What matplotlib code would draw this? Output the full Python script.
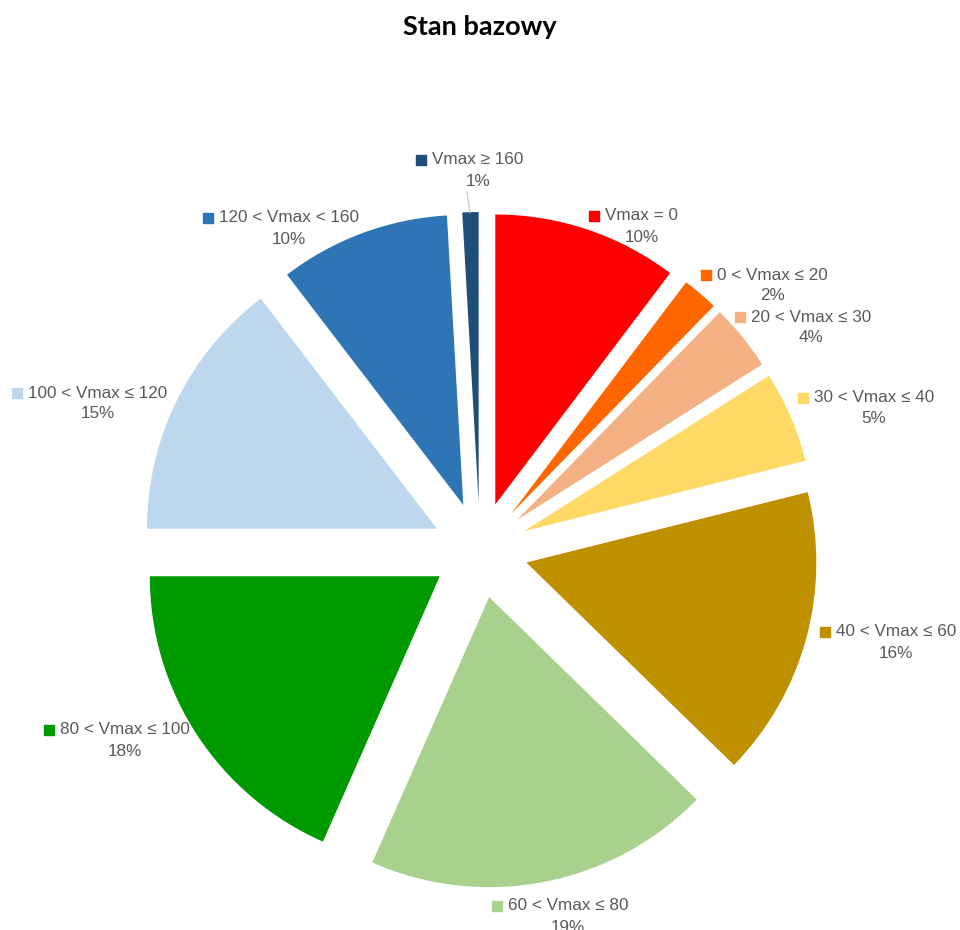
import numpy as np
import matplotlib
matplotlib.use('Agg')
import matplotlib.pyplot as plt

# data (shares in %; labels show rounded values)
categories = ['Vmax = 0', '0 < Vmax ≤ 20', '20 < Vmax ≤ 30', '30 < Vmax ≤ 40',
              '40 < Vmax ≤ 60', '60 < Vmax ≤ 80', '80 < Vmax ≤ 100',
              '100 < Vmax ≤ 120', '120 < Vmax < 160', 'Vmax ≥ 160']
shares = [10.3, 2.0, 3.7, 5.1, 16.2, 19.3, 18.4, 14.6, 9.5, 0.9]
colors = ['#FF0000', '#FF6600', '#F4B183', '#FFD966', '#BF9000',
          '#A9D18E', '#009900', '#BDD7EE', '#2E75B6', '#1F4E79']

# label anchors (marker position, pixels from top-left)
label_pos = [(594, 216), (706, 275), (740, 317), (803, 398), (825, 632),
             (497, 906), (49, 730), (17, 393), (208, 218), (421, 160)]

W, H = 960, 930
plt.rcParams['font.family'] = ['Liberation Sans', 'DejaVu Sans']

fig = plt.figure(figsize=(9.6, 9.3), dpi=100)
ax = fig.add_axes([0, 0, 1, 1])

cx, cy, r, d = 480, 550, 290, 48
ax.pie(shares, colors=colors, startangle=90, counterclock=False, radius=r,
       center=(cx, H - cy), explode=[d] * len(shares),
       wedgeprops=dict(linewidth=0))
ax.set_xlim(0, W)
ax.set_ylim(0, H)
ax.set_aspect('equal')
ax.axis('off')

fig.text(0.5, 1 - 27 / H, 'Stan bazowy', ha='center', va='center',
         fontsize=19.5, fontweight='bold', family=['Lato', 'DejaVu Sans'])

# leader line for the smallest slice
ax.plot([470, 467], [H - 213, H - 192], color='#BFBFBF', lw=0.8)

fig.canvas.draw()
renderer = fig.canvas.get_renderer()
grey = '#595959'
for name, val, col, (mx, my) in zip(categories, shares, colors, label_pos):
    ax.plot(mx, H - my, marker='s', ms=6.5, color=col, mec=col)
    t = ax.text(mx + 11, H - my, name, ha='left', va='center',
                fontsize=12.3, color=grey)
    bb = t.get_window_extent(renderer).transformed(ax.transData.inverted())
    ax.text((bb.x0 + bb.x1) / 2, H - my - 21, f'{round(val)}%', ha='center',
            va='center', fontsize=12.3, color=grey)

plt.savefig('out.png', dpi=100)
